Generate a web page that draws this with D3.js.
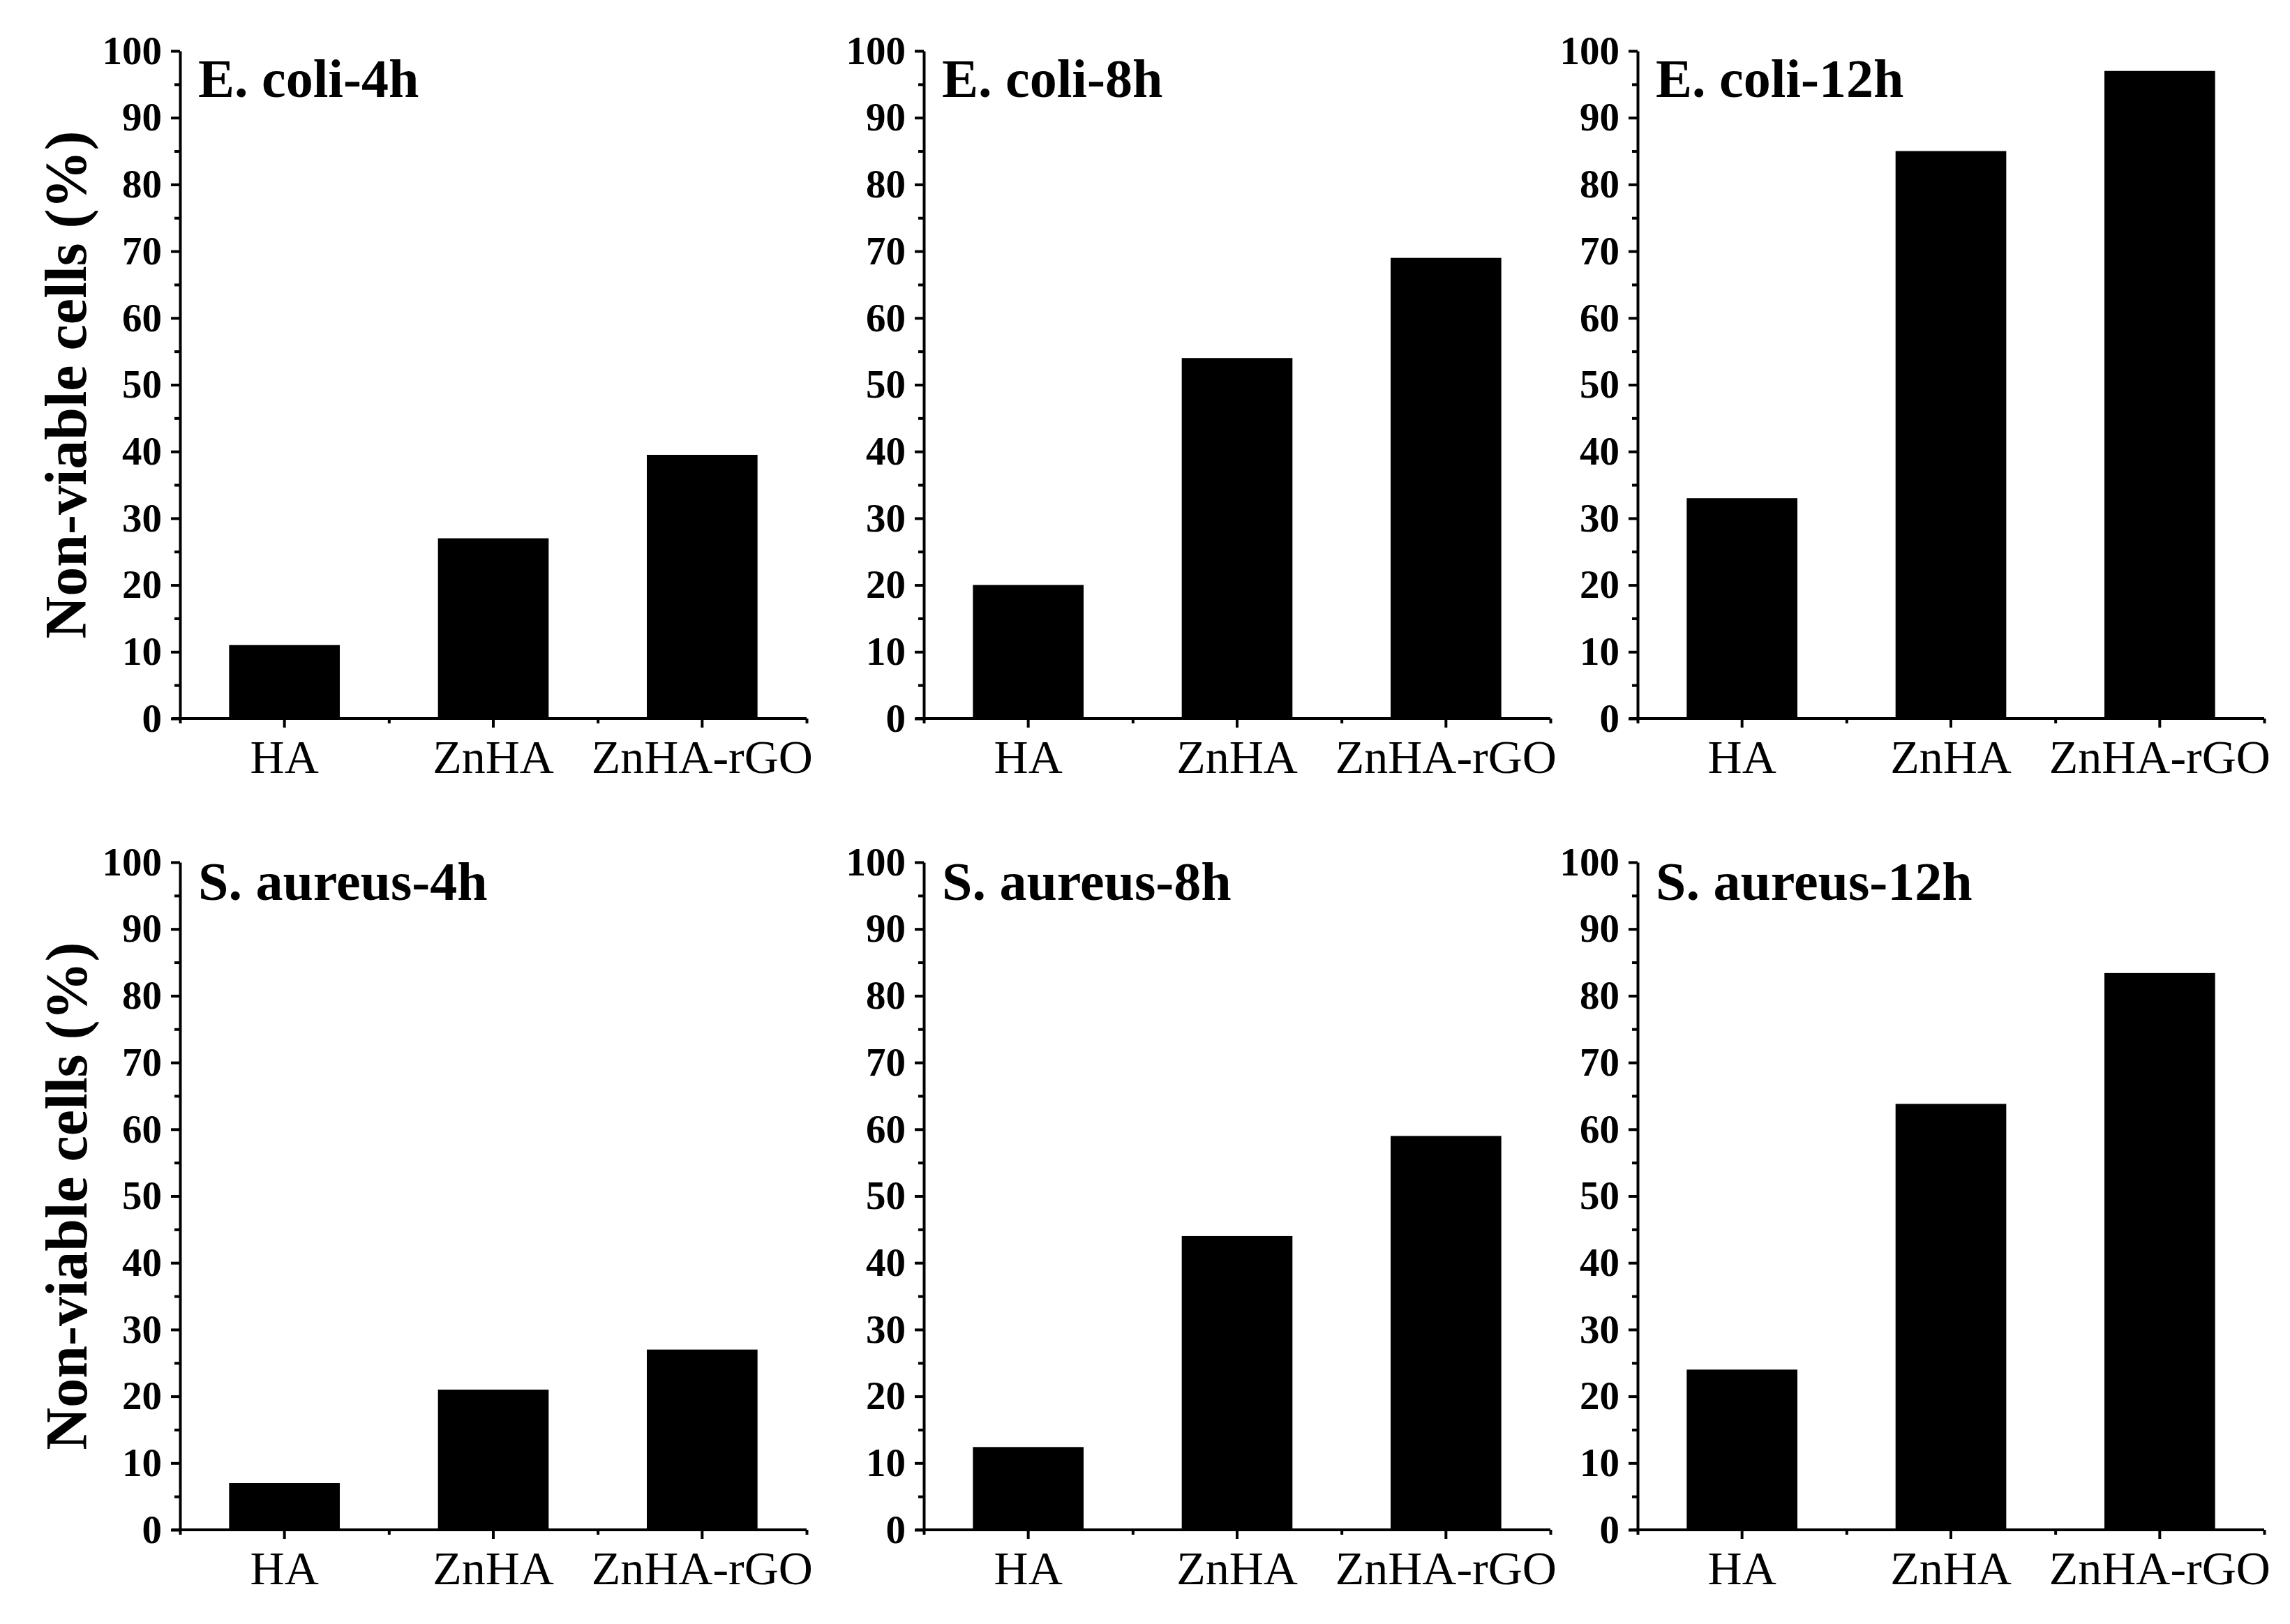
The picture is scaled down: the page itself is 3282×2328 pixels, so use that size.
<!DOCTYPE html>
<html>
<head>
<meta charset="utf-8">
<script src="https://cdn.jsdelivr.net/npm/d3@7"></script>
<style>
    html, body { margin: 0; padding: 0; background: #fff; }
    svg { display: block; }
    .axis path, .axis line { stroke: #000; stroke-width: 4; }
    .axis text { fill: #000; font-family: "Liberation Serif", "Times New Roman", serif; }
</style>
</head>
<body>
<script>
(function () {
    "use strict";

    var categories = ["HA", "ZnHA", "ZnHA-rGO"];
    var panelTitles = ["E. coli-4h", "E. coli-8h", "E. coli-12h",
                       "S. aureus-4h", "S. aureus-8h", "S. aureus-12h"];
    var ecoli4h = [11, 27, 39.5];
    var ecoli8h = [20, 54, 69];
    var ecoli12h = [33, 85, 97];
    var saureus4h = [7, 21, 27];
    var saureus8h = [12.4, 44, 59];
    var saureus12h = [24, 63.8, 83.4];
    var panelValues = [ecoli4h, ecoli8h, ecoli12h, saureus4h, saureus8h, saureus12h];
    var yTicks = [0, 10, 20, 30, 40, 50, 60, 70, 80, 90, 100];
    var yMinorTicks = [5, 15, 25, 35, 45, 55, 65, 75, 85, 95];
    var yTitle = "Non-viable cells (%)";

    var W = 3282, H = 2328;
    var colLeft = [258, 1324, 2347];
    var rowTop = [73, 1236];
    var plotW = 898, plotH = 957;
    var serif = '"Liberation Serif", "Times New Roman", serif';

    var svg = d3.select("body").append("svg")
        .attr("width", W)
        .attr("height", H);

    svg.append("rect").attr("width", W).attr("height", H).attr("fill", "#fff");

    var y = d3.scaleLinear().domain([0, 100]).range([plotH, 0]);
    var x = d3.scaleBand().domain(categories).range([0, plotW])
        .paddingInner(0.47).paddingOuter(0.235);
    var xEdge = d3.scaleLinear().domain([0, categories.length]).range([0, plotW]);

    function drawPanel(i) {
        var row = Math.floor(i / 3), col = i % 3;
        var g = svg.append("g")
            .attr("transform", "translate(" + colLeft[col] + "," + rowTop[row] + ")");
        var data = categories.map(function (c, k) {
            return {cat: c, val: panelValues[i][k]};
        });

        g.selectAll(".bar")
            .data(data)
            .enter()
            .append("rect")
            .attr("class", "bar")
            .attr("x", function (d) { return x(d.cat); })
            .attr("width", x.bandwidth())
            .attr("y", function (d) { return y(d.val); })
            .attr("height", function (d) { return plotH - y(d.val); })
            .attr("fill", "#000");

        // minor ticks first so the main axis lines sit on top
        g.append("g")
            .attr("class", "axis")
            .call(d3.axisLeft(y).tickValues(yMinorTicks).tickSize(8).tickFormat(""))
            .select(".domain").remove();

        g.append("g")
            .attr("class", "axis")
            .attr("transform", "translate(0," + plotH + ")")
            .call(d3.axisBottom(xEdge).tickValues(d3.range(categories.length + 1)).tickSize(7).tickFormat(""))
            .select(".domain").remove();

        var yAxis = g.append("g")
            .attr("class", "axis")
            .call(d3.axisLeft(y).tickValues(yTicks).tickSize(13).tickSizeOuter(0).tickPadding(13));
        yAxis.selectAll("text")
            .style("font-size", "57px")
            .style("font-weight", "bold");

        var xAxis = g.append("g")
            .attr("class", "axis")
            .attr("transform", "translate(0," + plotH + ")")
            .call(d3.axisBottom(x).tickSize(13).tickSizeOuter(0));
        xAxis.select(".domain").attr("d", "M-12,0H" + plotW);
        xAxis.selectAll("text")
            .attr("y", 78)
            .attr("dy", 0)
            .style("font-size", "68px");

        g.append("text")
            .attr("x", 26)
            .attr("y", row === 0 ? 66 : 54)
            .attr("font-family", serif)
            .attr("font-weight", "bold")
            .attr("font-size", 78)
            .text(panelTitles[i]);

        if (col === 0) {
            g.append("text")
                .attr("transform", "translate(" + (row === 0 ? -135 : -134) + "," + (plotH / 2) + ") rotate(-90)")
                .attr("text-anchor", "middle")
                .attr("font-family", serif)
                .attr("font-weight", "bold")
                .attr("font-size", 84)
                .text(yTitle);
        }
    }

    for (var i = 0; i < panelValues.length; i++) {
        drawPanel(i);
    }
}());
</script>
</body>
</html>
